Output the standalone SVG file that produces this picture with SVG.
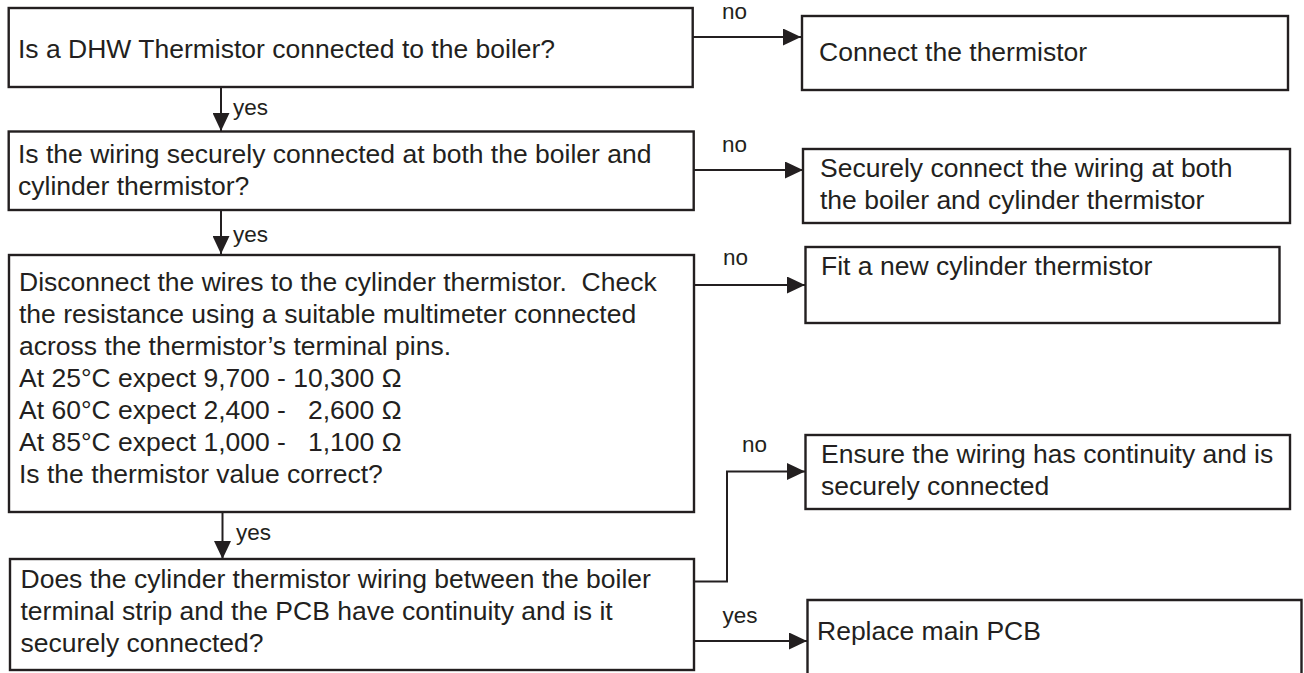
<svg xmlns="http://www.w3.org/2000/svg" width="1304" height="673" viewBox="0 0 1304 673">
<style>
.box{fill:#fff;stroke:#231f20;stroke-width:2.4}
.t{font-family:"Liberation Sans",Arial,sans-serif;font-size:26.5px;fill:#231f20}
.lb{font-family:"Liberation Sans",Arial,sans-serif;font-size:22.5px;fill:#231f20}
.c{fill:none;stroke:#231f20;stroke-width:2;marker-end:url(#ah)}
</style>
<defs>
<marker id="ah" markerUnits="userSpaceOnUse" markerWidth="18" markerHeight="17" refX="18" refY="8.5" orient="auto">
<path d="M0,0 L18,8.5 L0,17 z" fill="#231f20"/>
</marker>
</defs>
<rect width="1304" height="673" fill="#fff"/>
<g id="connectors">
<path class="c" d="M693,37 H801"/>
<path class="c" d="M221,87 V131"/>
<path class="c" d="M694,170 H803"/>
<path class="c" d="M221,210 V254"/>
<path class="c" d="M694,285 H805"/>
<path class="c" d="M222.5,512 V559"/>
<path class="c" d="M694,581.5 H727 V471.5 H805"/>
<path class="c" d="M694,641 H807"/>
<text class="lb" x="722" y="19">no</text>
<text class="lb" x="233" y="115">yes</text>
<text class="lb" x="722" y="152">no</text>
<text class="lb" x="233" y="242">yes</text>
<text class="lb" x="723" y="265">no</text>
<text class="lb" x="236" y="540">yes</text>
<text class="lb" x="742" y="452">no</text>
<text class="lb" x="722.5" y="623">yes</text>
</g>
<g id="q1">
<rect class="box" x="8.7" y="8" width="684" height="79"/>
<text class="t" x="18" y="58">Is a DHW Thermistor connected to the boiler?</text>
</g>
<g id="a1">
<rect class="box" x="802" y="16" width="486" height="74"/>
<text class="t" x="819" y="61">Connect the thermistor</text>
</g>
<g id="q2">
<rect class="box" x="8.7" y="131.5" width="685" height="78.5"/>
<text class="t" x="18" y="163">Is the wiring securely connected at both the boiler and</text>
<text class="t" x="18" y="195">cylinder thermistor?</text>
</g>
<g id="a2">
<rect class="box" x="803" y="149" width="487" height="74"/>
<text class="t" x="820" y="177">Securely connect the wiring at both</text>
<text class="t" x="820" y="209">the boiler and cylinder thermistor</text>
</g>
<g id="q3">
<rect class="box" x="9" y="255" width="685" height="257"/>
<text class="t" x="19" y="291" xml:space="preserve">Disconnect the wires to the cylinder thermistor.  Check</text>
<text class="t" x="19" y="323">the resistance using a suitable multimeter connected</text>
<text class="t" x="19" y="355">across the thermistor’s terminal pins.</text>
<text class="t" x="19" y="387" xml:space="preserve">At 25°C expect 9,700 - 10,300 Ω</text>
<text class="t" x="19" y="419" xml:space="preserve">At 60°C expect 2,400 -   2,600 Ω</text>
<text class="t" x="19" y="451" xml:space="preserve">At 85°C expect 1,000 -   1,100 Ω</text>
<text class="t" x="19" y="483">Is the thermistor value correct?</text>
</g>
<g id="a3">
<rect class="box" x="805.5" y="247" width="474" height="76"/>
<text class="t" x="821" y="275">Fit a new cylinder thermistor</text>
</g>
<g id="q4">
<rect class="box" x="10" y="559" width="684" height="111"/>
<text class="t" x="20.5" y="588">Does the cylinder thermistor wiring between the boiler</text>
<text class="t" x="20.5" y="620">terminal strip and the PCB have continuity and is it</text>
<text class="t" x="20.5" y="652">securely connected?</text>
</g>
<g id="a4">
<rect class="box" x="805.5" y="435" width="484.5" height="74"/>
<text class="t" x="821" y="463">Ensure the wiring has continuity and is</text>
<text class="t" x="821" y="495">securely connected</text>
</g>
<g id="a5">
<path class="box" d="M807.5,690 V600 H1301.5 V690"/>
<text class="t" x="817" y="640">Replace main PCB</text>
</g>
</svg>
